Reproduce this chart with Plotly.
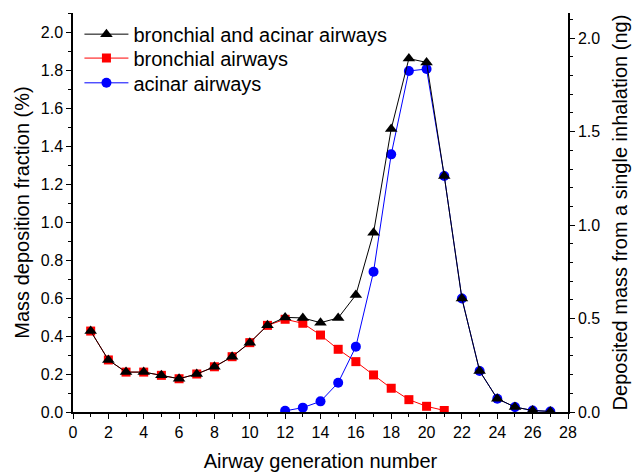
import plotly.graph_objects as go

gen_total = list(range(1, 28))
total = [0.426, 0.274, 0.21, 0.21, 0.193, 0.175, 0.2, 0.238, 0.291, 0.365, 0.456,
         0.498, 0.495, 0.47, 0.495, 0.616, 0.944, 1.49, 1.86, 1.84, 1.242, 0.597,
         0.216, 0.07, 0.026, 0.008, 0.003]

gen_bronch = list(range(1, 22))
bronch = [0.426, 0.274, 0.21, 0.21, 0.193, 0.175, 0.2, 0.238, 0.291, 0.365, 0.456,
          0.488, 0.467, 0.405, 0.33, 0.265, 0.195, 0.125, 0.065, 0.03, 0.008]

gen_acinar = list(range(12, 28))
acinar = [0.006, 0.023, 0.056, 0.154, 0.344, 0.738, 1.356, 1.795, 1.805, 1.242,
          0.597, 0.216, 0.07, 0.026, 0.008, 0.003]

font = "Liberation Sans, Arial, sans-serif"

fig = go.Figure()
fig.add_trace(go.Scatter(x=gen_bronch, y=bronch, mode="lines+markers", name="bronchial airways",
                         legend="legend2",
                         line=dict(color="#ff0000", width=1),
                         marker=dict(symbol="square", size=9, color="#ff0000")))
fig.add_trace(go.Scatter(x=gen_acinar, y=acinar, mode="lines+markers", name="acinar airways",
                         legend="legend3",
                         line=dict(color="#0000ff", width=1),
                         marker=dict(symbol="circle", size=10, color="#0000ff")))
fig.add_trace(go.Scatter(x=gen_total, y=total, mode="lines+markers", name="bronchial and acinar airways",
                         legend="legend",
                         line=dict(color="#000000", width=1),
                         marker=dict(symbol="triangle-up", size=11, color="#000000")))
fig.add_trace(go.Scatter(x=[None], y=[None], yaxis="y2", showlegend=False, hoverinfo="skip"))

tick_common = dict(ticks="outside", ticklen=5, tickwidth=1.2, tickcolor="black",
                   showline=True, linecolor="black", linewidth=1.5,
                   showgrid=False, zeroline=False, automargin=False)

leg_common = dict(x=0.013, xanchor="left", yanchor="middle",
                  font=dict(size=20), bgcolor="rgba(0,0,0,0)", itemwidth=44)

fig.update_layout(
    width=635, height=474,
    margin=dict(l=73, r=67, t=13, b=62),
    paper_bgcolor="white", plot_bgcolor="white",
    font=dict(family=font, size=16, color="black"),
    legend=dict(y=0.947, **leg_common),
    legend2=dict(y=0.887, **leg_common),
    legend3=dict(y=0.825, **leg_common),
    xaxis=dict(range=[0, 28], tickmode="linear", tick0=0, dtick=2,
               minor=dict(dtick=1, ticks="outside", ticklen=3, tickcolor="black", tickwidth=1),
               title=dict(text="Airway generation number", font=dict(size=20), standoff=14),
               **tick_common),
    yaxis=dict(range=[0, 2.1], tickmode="linear", tick0=0, dtick=0.2, tickformat=".1f",
               minor=dict(dtick=0.1, ticks="outside", ticklen=3, tickcolor="black", tickwidth=1),
               title=dict(text="Mass deposition fraction (%)", font=dict(size=20), standoff=6),
               **tick_common),
    yaxis2=dict(range=[0, 2.135], overlaying="y", side="right", tickmode="linear", tick0=0,
                dtick=0.5, tickformat=".1f",
                minor=dict(dtick=0.1, ticks="outside", ticklen=3, tickcolor="black", tickwidth=1),
                title=dict(text="Deposited mass from a single inhalation (ng)", font=dict(size=20), standoff=14),
                **tick_common),
)

fig.write_html("out.html", config={"displayModeBar": False},
               post_script="document.body.style.margin='0';")
